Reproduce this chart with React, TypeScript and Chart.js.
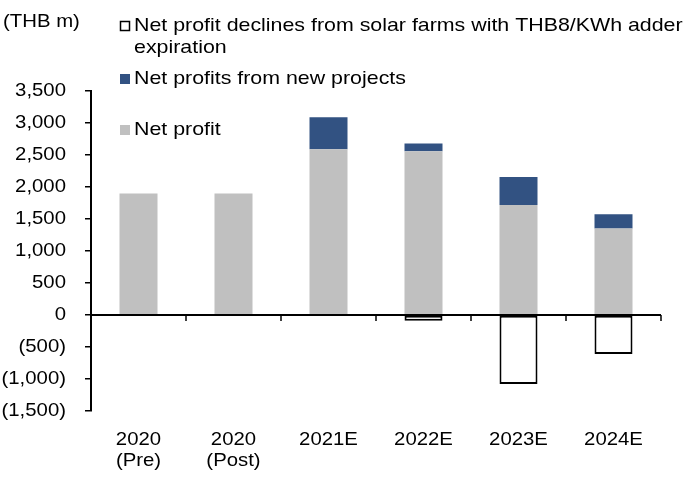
import React, { useEffect, useRef } from 'react';
import { Chart, registerables } from 'chart.js';

Chart.register(...registerables);

const categories: (string | string[])[] = [['2020', '(Pre)'], ['2020', '(Post)'], '2021E', '2022E', '2023E', '2024E'];
const netProfit = [1900, 1900, 2590, 2560, 1720, 1350];
const newProjects = [null, null, 500, 120, 435, 225];
const adderDeclines = [null, null, null, -90, -1080, -610];
const yMin = -1500;
const yMax = 3500;
const yStep = 500;
const unitLabel = '(THB m)';
const seriesNames = [
  'Net profit declines from solar farms with THB8/KWh adder expiration',
  'Net profits from new projects',
  'Net profit',
];
const legendLines = [
  ['Net profit declines from solar farms with THB8/KWh adder', 'expiration'],
  ['Net profits from new projects'],
  ['Net profit'],
];

const FONT = '"Liberation Sans", Arial, sans-serif';
const FS = 18.5;
const GRAY = '#c0c0c0';
const NAVY = '#325282';
let stretchX = 1.1;

function fmt(v: number): string {
  const s = Math.abs(v).toLocaleString('en-US');
  return v < 0 ? `(${s})` : s;
}

export default function App() {
  const ref = useRef<HTMLCanvasElement | null>(null);
  useEffect(() => {
    document.body.style.margin = '0';
    const canvas = ref.current!;
    const ctx = canvas.getContext('2d')!;
    const proto = CanvasRenderingContext2D.prototype.fillText;
    (ctx as any).fillText = function (t: string, x: number, y: number) {
      ctx.save();
      ctx.translate(x, y);
      ctx.scale(stretchX, 1);
      proto.call(ctx, t, 0, 0);
      ctx.restore();
    };

    const axisPlugin = {
      id: 'zeroAxis',
      afterDatasetsDraw(chart: any) {
        const c = chart.ctx;
        const xs = chart.scales.x;
        const ys = chart.scales.y;
        const y0 = ys.getPixelForValue(0);
        const { left, right } = chart.chartArea;
        c.save();
        c.strokeStyle = '#000';
        c.lineWidth = 2;
        c.beginPath();
        c.moveTo(left, y0);
        c.lineTo(right, y0);
        c.stroke();
        const half = (xs.getPixelForValue(1) - xs.getPixelForValue(0)) / 2;
        c.lineWidth = 1.5;
        for (let i = 0; i < categories.length; i++) {
          const x = Math.round(xs.getPixelForValue(i) + half);
          c.beginPath();
          c.moveTo(x, y0);
          c.lineTo(x, y0 + 6);
          c.stroke();
        }
        c.restore();
      },
      afterDraw(chart: any) {
        const c = chart.ctx;
        c.save();
        c.font = `${FS}px ${FONT}`;
        c.textBaseline = 'middle';
        c.textAlign = 'left';
        c.fillStyle = '#000';
        stretchX = 1.1;
        c.fillText(unitLabel, 3, 22);
        stretchX = 1.155;
        const items = [
          { fill: '#ffffff', stroke: true, y: 26 },
          { fill: NAVY, stroke: false, y: 79 },
          { fill: GRAY, stroke: false, y: 130 },
        ];
        items.forEach((it, i) => {
          c.fillStyle = it.fill;
          c.fillRect(120, it.y - 5, 10, 10);
          if (it.stroke) {
            c.strokeStyle = '#000';
            c.lineWidth = 1.5;
            c.strokeRect(120.5, it.y - 4.5, 9, 9);
          }
          c.fillStyle = '#000';
          legendLines[i].forEach((ln, j) => {
            c.fillText(ln, 134, it.y + j * 22);
          });
        });
        stretchX = 1.1;
        c.restore();
      },
    };

    const chart = new Chart(canvas, {
      type: 'bar',
      data: {
        labels: categories as any,
        datasets: [
          {
            label: seriesNames[2],
            data: netProfit,
            backgroundColor: GRAY,
            borderWidth: 0,
            stack: 's',
          },
          {
            label: seriesNames[1],
            data: newProjects as any,
            backgroundColor: NAVY,
            borderWidth: 0,
            stack: 's',
          },
          {
            label: seriesNames[0],
            data: adderDeclines as any,
            backgroundColor: '#ffffff',
            borderColor: '#000000',
            borderWidth: 2,
            borderSkipped: false,
            stack: 's',
          },
        ],
      },
      options: {
        responsive: false,
        animation: false,
        events: [],
        barPercentage: 0.4,
        categoryPercentage: 1,
        layout: { padding: { top: 91, right: 22, bottom: 0, left: 0 } },
        plugins: { legend: { display: false }, tooltip: { enabled: false } },
        scales: {
          x: {
            stacked: true,
            grid: { display: false, drawTicks: false },
            border: { display: false },
            ticks: {
              font: { family: FONT, size: FS, lineHeight: 1.15 },
              color: '#000',
              padding: 18,
              maxRotation: 0,
              autoSkip: false,
            },
            afterFit: (s: any) => { s.height = 66; },
          },
          y: {
            stacked: true,
            min: yMin,
            max: yMax,
            ticks: {
              stepSize: yStep,
              font: { family: FONT, size: FS },
              color: '#000',
              padding: 19,
              callback: (v: any) => fmt(Number(v)),
            },
            grid: { drawOnChartArea: false, drawTicks: true, tickLength: 6, color: '#000', lineWidth: 1.5 },
            border: { display: true, color: '#000', width: 2 },
            afterFit: (s: any) => { s.width = 91; },
          },
        },
      } as any,
      plugins: [axisPlugin],
    });
    return () => chart.destroy();
  }, []);
  return <canvas ref={ref} width={683} height={477} style={{ display: 'block', width: 683, height: 477 }} />;
}
